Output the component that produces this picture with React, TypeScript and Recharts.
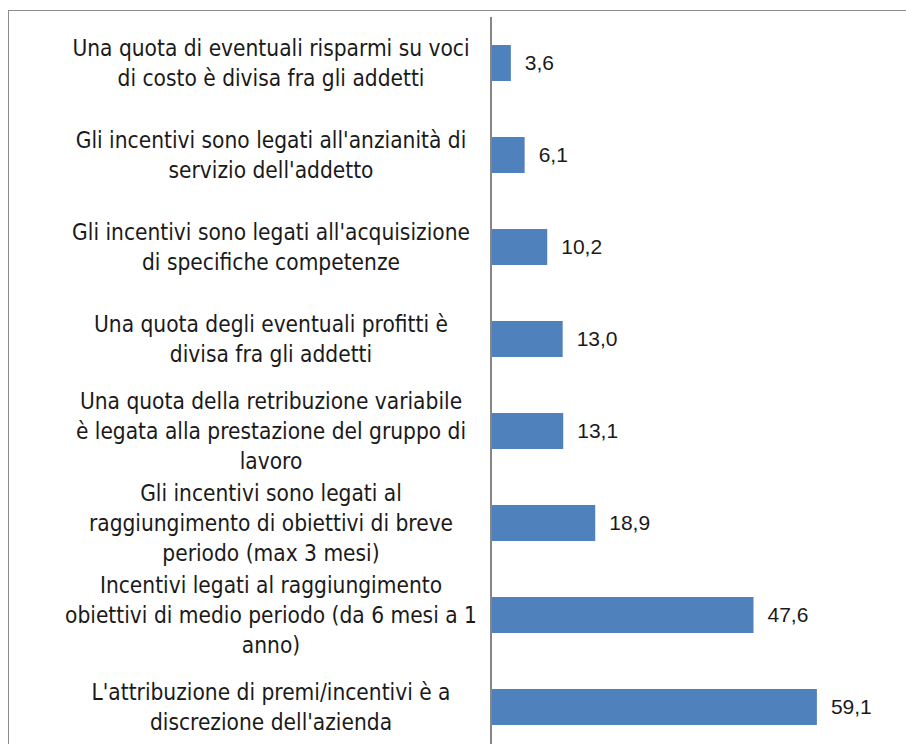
import { Bar, BarChart, LabelList, XAxis, YAxis } from "recharts";

const categories = [
  "Una quota di eventuali risparmi su voci\ndi costo è divisa fra gli addetti",
  "Gli incentivi sono legati all'anzianità di\nservizio dell'addetto",
  "Gli incentivi sono legati all'acquisizione\ndi specifiche competenze",
  "Una quota degli eventuali profitti è\ndivisa fra gli addetti",
  "Una quota della retribuzione variabile\nè legata alla prestazione del gruppo di\nlavoro",
  "Gli incentivi sono legati al\nraggiungimento di obiettivi di breve\nperiodo (max 3 mesi)",
  "Incentivi legati al raggiungimento\nobiettivi di medio periodo (da 6 mesi a 1\nanno)",
  "L'attribuzione di premi/incentivi è a\ndiscrezione dell'azienda",
];

const values = [3.6, 6.1, 10.2, 13.0, 13.1, 18.9, 47.6, 59.1];

const rows = categories.map((label, i) => ({ label, value: values[i] }));

function CategoryTick(props: any) {
  const { x, y, payload } = props;
  const lines = String(payload.value).split("\n");
  const lineH = 30;
  const cx = x - 212;
  const startY = y - ((lines.length - 1) * lineH) / 2;
  return (
    <text
      textAnchor="middle"
      fontFamily="'DejaVu Sans Condensed', 'DejaVu Sans', sans-serif"
      fontSize={22.5}
      fill="#1a1a1a"
    >
      {lines.map((ln, i) => (
        <tspan key={i} x={cx} y={startY + i * lineH} dy="0.36em">
          {ln}
        </tspan>
      ))}
    </text>
  );
}

export default function App() {
  return (
    <div
      style={{
        position: "absolute",
        left: 8,
        top: 10,
        width: 898,
        height: 734,
        overflow: "hidden",
        borderTop: "1px solid #8c8c8c",
        borderLeft: "1px solid #8c8c8c",
        background: "#fff",
      }}
    >
      <style>{`html,body{margin:0;overflow:hidden;}`}</style>
      <BarChart
        width={897}
        height={760}
        data={rows}
        layout="vertical"
        margin={{ top: 6, right: 29, left: 12, bottom: 18 }}
        barSize={36}
      >
        <XAxis type="number" domain={[0, 70]} hide />
        <YAxis
          type="category"
          dataKey="label"
          width={470}
          axisLine={{ stroke: "#868686", strokeWidth: 2 }}
          tickLine={false}
          tick={<CategoryTick />}
          interval={0}
        />
        <Bar dataKey="value" fill="#4F81BD" isAnimationActive={false}>
          <LabelList
            dataKey="value"
            position="right"
            offset={14}
            formatter={(v: any) => Number(v).toFixed(1).replace(".", ",")}
            style={{
              fontFamily: "'Liberation Sans', Arial, sans-serif",
              fontSize: 21,
              fill: "#1a1a1a",
            }}
          />
        </Bar>
      </BarChart>
    </div>
  );
}
